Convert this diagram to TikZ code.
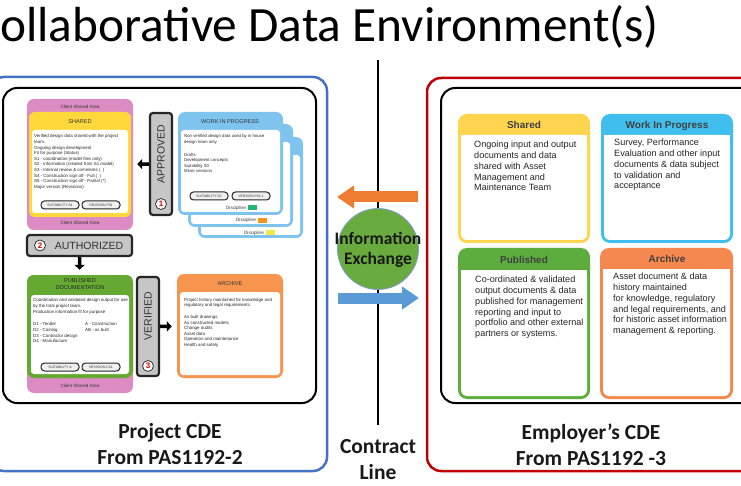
\documentclass[tikz,border=0pt]{standalone}
\usepackage{fontspec}
\setmainfont{Carlito}
\newfontfamily\arialf{Liberation Sans}
\usetikzlibrary{arrows.meta,fit}
\definecolor{pinkc}{HTML}{DC8CC3}
\definecolor{yelc}{HTML}{FFD93B}
\definecolor{wipc}{HTML}{7EC4EF}
\definecolor{grnc}{HTML}{65A832}
\definecolor{orgc}{HTML}{F7954F}
\definecolor{gatec}{HTML}{C6C6C6}
\definecolor{bluebd}{HTML}{4472C4}
\definecolor{redbd}{HTML}{C00000}
\definecolor{rshy}{HTML}{FFD44F}
\definecolor{rwip}{HTML}{40BEEE}
\definecolor{rpub}{HTML}{5CAD3E}
\definecolor{rarc}{HTML}{F4884F}
\definecolor{arrO}{HTML}{ED7D31}
\definecolor{arrB}{HTML}{5B9BD5}
\definecolor{circG}{HTML}{6AAB3F}
\definecolor{txtd}{HTML}{333333}
\definecolor{tagG}{HTML}{22B573}
\definecolor{tagO}{HTML}{F7941D}
\definecolor{tagY}{HTML}{F3E74A}
\tikzset{
  tiny/.style={font=\arialf\fontsize{4.4}{5.6}\selectfont, align=left, anchor=north west, inner sep=0, text=black!85},
  hdr/.style={font=\arialf\fontsize{5.6}{7}\selectfont, text=txtd, align=center, inner sep=0},
  csa/.style={font=\arialf\fontsize{4.6}{5}\selectfont, text=txtd, inner sep=0},
  pill/.style={draw=black!85, line width=1, rounded corners=3.5, fill=black!6, minimum width=38, minimum height=8, inner sep=0, font=\arialf\fontsize{3.4}{4}\selectfont, text=txtd},
  gate/.style={draw=black!85, line width=2.2, fill=gatec, rounded corners=3, inner sep=0},
  gatetxt/.style={rotate=90, font=\arialf\fontsize{10.5}{11}\selectfont, text=txtd, inner sep=0},
  numc/.style={circle, draw=black!80, line width=0.8, fill=white, text=red!85!black, font=\arialf\bfseries\fontsize{8}{8}\selectfont, inner sep=0, minimum size=11},
  blk/.style={line width=3.5, -{Triangle[length=5pt,width=10pt]}},
  area/.style={inner sep=0, rounded corners=7},
  innerw/.style={fill=white, rounded corners=3, inner sep=0},
  disc/.style={font=\arialf\fontsize{4.6}{5}\selectfont, text=txtd, inner sep=0},
  tagbox/.style={minimum width=9, minimum height=5, inner sep=0},
  rtxt/.style={font=\arialf\fontsize{9.1}{10.8}\selectfont, align=left, anchor=north west, inner sep=0, text=black!85},
  rhdr/.style={font=\arialf\bfseries\fontsize{10}{12}\selectfont, text=black!75, inner sep=0},
  big/.style={font=\bfseries\fontsize{21.5}{26}\selectfont, align=center, inner sep=0, text=black!90},
}
\begin{document}
\begin{tikzpicture}[x=1pt,y=-1pt]
\useasboundingbox (0,0) rectangle (741,486);
\clip (0,0) rectangle (741,486);
\fill[white] (0,0) rectangle (741,486);

% title
\node[anchor=base west, font=\fontsize{49.3}{49.3}\selectfont, inner sep=0] (title) at (0,42) {ollaborative Data Environment(s)};

% frames
\draw[bluebd, line width=2.5, rounded corners=14] (-10,77) rectangle (327,471);
\draw[black, line width=2, rounded corners=14] (3,88) rectangle (316,403);
\draw[redbd, line width=2.5, rounded corners=14] (427,78) rectangle (760,471);
\draw[black, line width=2, rounded corners=14] (441,88) rectangle (760,403);

% contract line
\coordinate (vtop) at (378,60);
\coordinate (vbot) at (378,425);
\draw[line width=1.6] (vtop) -- (vbot);

% ---------- left: shared ----------
\node[area, fill=pinkc, fit={(27,99) (133,230)}] (pinkA) {};
\node[csa] (csa1) at (80,107) {Client Shared Area};
\node[csa] (csa2) at (80,222.5) {Client Shared Area};
\node[area, fill=yelc, rounded corners=6, fit={(29,112) (131,217)}] (yel) {};
\node[hdr] (shh) at (80,122) {SHARED};
\node[innerw, fit={(32,130) (128,213)}] (yelw) {};
\node[tiny] (sht) at (34,134.5) {Verified design data shared with the project\\team.\\Ongoing design development\\Fit for purpose (Status)\\S1 - coordination (model files only)\\S2 - information (created from S1 model)\\S3 - Internal review \& comments (\ \ )\\S4 - Construction sign off - Full (\ \ )\\S5 - Construction sign off - Partial (*)\\Major version (Revisions)};
\node[pill] (p1) at (60,205) {SUITABILITY S4};
\node[pill] (p2) at (101,205) {REVISION P01};

% approved gate
\node[gate, fit={(150,113) (172,215)}] (appr) {};
\node[gatetxt] (apprt) at (161,154) {APPROVED};
\node[numc] (n1) at (161,204) {1};
\draw[blk, shorten >=4pt] (appr) -- (pinkA);

% ---------- WIP cards ----------
\node[area, fill=wipc, fit={(198,137) (303,238)}] (card3) {};
\node[innerw, fit={(201,155) (300,235)}] (card3w) {};
\node[area, fill=wipc, fit={(188,124) (293,227)}] (card2) {};
\node[innerw, fit={(191,142) (290,224)}] (card2w) {};
\node[area, fill=wipc, fit={(178,112) (283,215)}] (card1) {};
\node[innerw, fit={(181,130) (280,212)}] (card1w) {};
\node[hdr] (wiph) at (230,122) {WORK IN PROGRESS};
\node[tiny, font=\arialf\fontsize{4.3}{5.3}\selectfont] (wipt) at (184,134.5) {Non verified design data used by in house\\design team only.\\[8pt]Drafts\\Development concepts\\Suitability S0\\Minor versions};
\node[pill] (p3) at (209,196) {SUITABILITY S0};
\node[pill] (p4) at (251,196) {VERSION P01.1};
\node[disc] (d1) at (236,208) {Discipline};
\node[tagbox, fill=tagG] (t1) at (252,208) {};
\node[disc] (d2) at (246,220.5) {Discipline};
\node[tagbox, fill=tagO] (t2) at (262,220.5) {};
\node[disc] (d3) at (254,233) {Discipline};
\node[tagbox, fill=tagY] (t3) at (270,233) {};

% ---------- authorized ----------
\node[gate, fit={(27,235) (132,256)}] (auth) {};
\node[numc] (n2) at (40,245.5) {2};
\node[font=\arialf\fontsize{10.5}{11}\selectfont, text=txtd, inner sep=0] (autht) at (89,245.5) {AUTHORIZED};

% ---------- published ----------
\node[area, fill=pinkc, fit={(27,275) (133,393)}] (pinkB) {};
\node[csa] (csa3) at (80,386) {Client Shared Area};
\node[area, fill=grnc, fit={(27,275) (133,378)}] (grn) {};
\node[hdr, text=black!85] (pubh) at (80,284.5) {PUBLISHED\\DOCUMENTATION};
\node[innerw, fit={(31,295) (129,374)}] (grnw) {};
\node[tiny] (pubt) at (33,298.5) {Coordination and validated design output for use\\by the total project team.\\Production information fit for purpose};
\node[tiny] (pubd) at (33,322.5) {D1 - Tender\\D2 - Costing\\D3 - Contractor design\\D4 - Manufacture};
\node[tiny] (puba) at (85,322.5) {A - Construction\\AB - as built};
\node[pill] (p5) at (60,367) {SUITABILITY A};
\node[pill] (p6) at (101,367) {REVISION C01};
\draw[blk, shorten >=5pt] (auth) -- (pinkB);

% verified gate
\node[gate, fit={(137,277) (159,376)}] (verf) {};
\node[gatetxt] (verft) at (148,316) {VERIFIED};
\node[numc] (n3) at (148,366) {3};

% ---------- archive ----------
\node[area, fill=orgc, fit={(177,274) (283,378)}] (arch) {};
\node[hdr] (archh) at (230,284) {ARCHIVE};
\node[innerw, fit={(180,292) (280,375)}] (archw) {};
\node[tiny] (archt) at (184,298) {Project history maintained for knowledge and\\regulatory and legal requirements.\\[6pt]As built drawings\\As constructed models\\Change audits\\Asset data\\Operation and maintenance\\Health and safety};
\draw[blk, shorten >=5pt] (verf) -- (arch);

% ---------- middle ----------
\coordinate (oS) at (418,197);
\coordinate (oE) at (337,197);
\draw[arrO, line width=11, -{Triangle[length=17pt,width=22pt]}] (oS) -- (oE);
\coordinate (bS) at (338,298);
\coordinate (bE) at (419,298);
\draw[arrB, line width=11, -{Triangle[length=17pt,width=22pt]}] (bS) -- (bE);
\node[circle, fill=circG, draw=bluebd!70, line width=0.8, minimum size=81, inner sep=0] (ie) at (378,249) {};
\node[font=\bfseries\fontsize{17.5}{20}\selectfont, align=center, text=black!90, inner sep=0] (iet) at (378,250) {Information\\Exchange};

% ---------- right boxes ----------
\node[area, fill=rshy, rounded corners=9, fit={(458,114) (590,243)}] (rsh) {};
\node[innerw, rounded corners=6, fit={(461,135) (587,240)}] (rshw) {};
\fill[white] (461,135) rectangle (587,142);
\node[rhdr] (rshh) at (524,125) {Shared};
\node[rtxt] (rsht) at (474,141) {Ongoing input and output\\documents and data\\shared with Asset\\Management and\\Maintenance Team};

\node[area, fill=rwip, rounded corners=9, fit={(601,114) (733,243)}] (rwp) {};
\node[innerw, rounded corners=6, fit={(604,135) (730,240)}] (rwpw) {};
\fill[white] (604,135) rectangle (730,142);
\node[rhdr] (rwph) at (667,126) {Work In Progress};
\node[rtxt] (rwpt) at (614,139) {Survey, Performance\\Evaluation and other input\\documents \& data subject\\to validation and\\acceptance};

\node[area, fill=rpub, rounded corners=9, fit={(458,248) (590,399)}] (rpb) {};
\node[innerw, rounded corners=6, fit={(461,270) (587,396)}] (rpbw) {};
\fill[white] (461,270) rectangle (587,277);
\node[rhdr] (rpbh) at (524,260) {Published};
\node[rtxt] (rpbt) at (475,276) {Co-ordinated \& validated\\output documents \& data\\published for management\\reporting and input to\\portfolio and other external\\partners or systems.};

\node[area, fill=rarc, rounded corners=9, fit={(600,248) (733,399)}] (rar) {};
\node[innerw, rounded corners=6, fit={(603,269) (730,396)}] (rarw) {};
\fill[white] (603,269) rectangle (730,276);
\node[rhdr] (rarh) at (667,259) {Archive};
\node[rtxt] (rart) at (613,273) {Asset document \& data\\history maintained\\for knowledge, regulatory\\and legal requirements, and\\for historic asset information\\management \& reporting.};

% ---------- bottom labels ----------
\node[big] (pcde) at (170,444) {Project CDE\\From PAS1192-2};
\node[big] (ecde) at (591,445) {Employer’s CDE\\From PAS1192 -3};
\node[big] (cl) at (378,460) {Contract\\Line};
\end{tikzpicture}
\end{document}
